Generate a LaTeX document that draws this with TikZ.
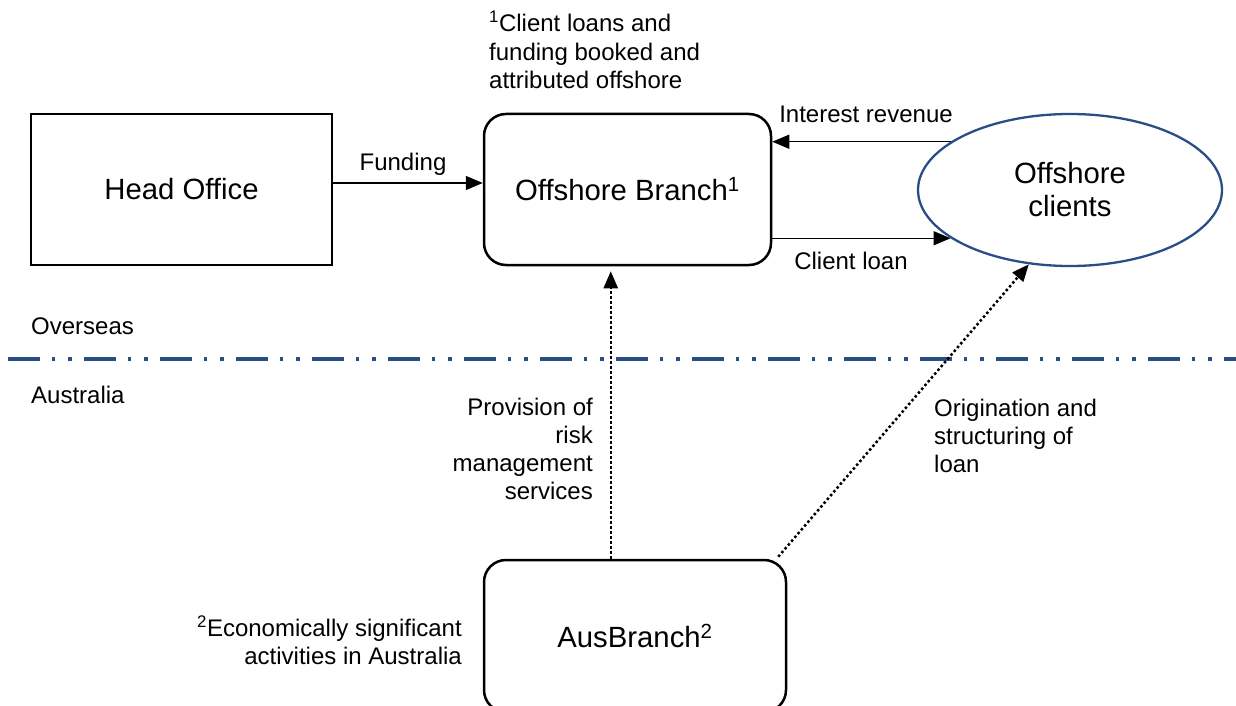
\documentclass[tikz,border=0pt]{standalone}
\usepackage{fontspec}
\setmainfont{Liberation Sans}
\usetikzlibrary{arrows.meta,shapes.geometric}
\definecolor{lineblue}{RGB}{41,78,135}
\tikzset{
  small/.style={font=\fontsize{24}{28}\selectfont, inner sep=0pt},
  big/.style={font=\fontsize{29.3}{33}\selectfont},
  sqbox/.style={draw, line width=2pt, minimum width=301pt, minimum height=151pt, inner sep=0pt, big},
  rbox/.style={draw, line width=2.5pt, rounded corners=22pt, inner sep=0pt, big},
  arr/.style={line width=1.5pt, -{Triangle[length=17pt,width=14pt]}},
  dotarr/.style={line width=2.5pt, dash pattern=on 2.5pt off 2.5pt, -{Triangle[length=17pt,width=14pt]}},
}
\begin{document}
\begin{tikzpicture}[x=1pt,y=-1pt]
\useasboundingbox (0,0) rectangle (1236,706);
% dash-dot separator
\draw[lineblue, line width=4pt, dash pattern=on 32pt off 12pt on 3pt off 13pt on 4pt off 12pt] (8,359) -- (1236,359);
% shapes
\node[sqbox] (ho) at (181.5,189.5) {Head Office};
\node[rbox, minimum width=287pt, minimum height=151pt] (ob) at (627.5,189.5) {Offshore Branch\textsuperscript{1}};
\node[draw=lineblue, line width=2.3pt, ellipse, minimum width=304pt, minimum height=152pt, inner sep=0pt, big, align=center] (cl) at (1070,190) {\raisebox{-2pt}{Offshore}\\\raisebox{-2pt}{clients}};
\node[rbox, minimum width=302pt, minimum height=152pt] (aus) at (635,636) {AusBranch\textsuperscript{2}};
% connectors
\draw[arr] ([yshift=6.5pt]ho.east) -- ([yshift=6.5pt]ob.west);
\draw[arr] (cl.158) -- (cl.158 -| ob.east);
\draw[arr] (cl.202 -| ob.east) -- (cl.202);
\draw[dotarr] ([xshift=128pt]aus.north west) -- ([xshift=128pt,yshift=-5pt]ob.south west);
\draw[dotarr] ([xshift=-9pt,yshift=2pt]aus.north east) -- (cl.241);
% labels
\node[small, anchor=base] (lfund) at (403,170) {Funding};
\node[small, anchor=base] (lint) at (866,122) {Interest revenue};
\node[small, anchor=base] (lloan) at (851,269) {Client loan};
\node[small, anchor=base west] (lover) at (31,334) {Overseas};
\node[small, anchor=base west] (laus) at (31,403) {Australia};
\node[small, font=\fontsize{24}{28.5}\selectfont, anchor=base west, align=left] (lnote1) at (489,89) {\textsuperscript{1}Client loans and\\funding booked and\\attributed offshore};
\node[small, font=\fontsize{24}{27.7}\selectfont, anchor=base east, align=right] (lprov) at (593,499) {Provision of\\risk\\management\\services};
\node[small, font=\fontsize{24}{27.7}\selectfont, anchor=base west, align=left] (lorig) at (934,472) {Origination and\\structuring of\\loan};
\node[small, font=\fontsize{24}{27.5}\selectfont, anchor=base east, align=right] (lnote2) at (462,664) {\textsuperscript{2}Economically significant\\activities in Australia};
\end{tikzpicture}
\end{document}
